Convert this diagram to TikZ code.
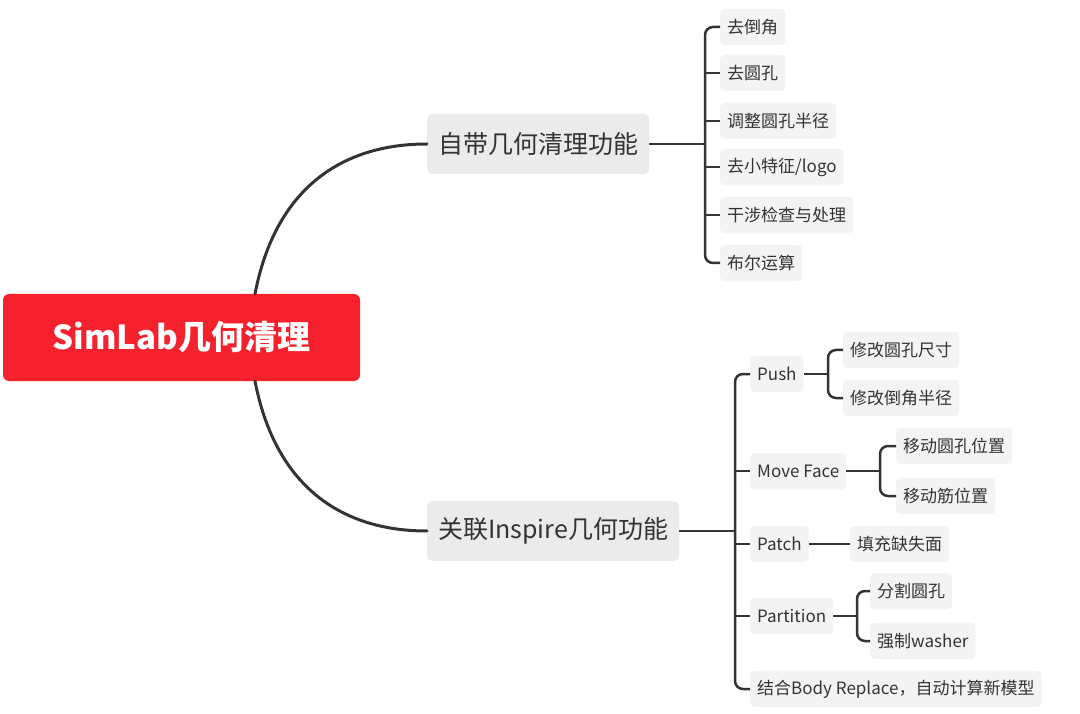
\documentclass[tikz,border=0pt]{standalone}
\usepackage{fontspec}
\setmainfont{Noto Sans CJK SC}
\definecolor{rootred}{HTML}{F5222D}
\definecolor{boxgray}{HTML}{EBEBEB}
\definecolor{leafgray}{HTML}{F3F3F3}
\definecolor{ln}{HTML}{333333}
\begin{document}
\begin{tikzpicture}[x=1pt,y=-1pt,
 leaf/.style={fill=leafgray,rounded corners=4pt,anchor=west,inner xsep=7pt,minimum height=36pt,font=\fontsize{17}{20}\selectfont,text=ln},
 mid/.style={fill=boxgray,rounded corners=5pt,anchor=west,inner xsep=11pt,minimum height=60pt,font=\fontsize{25}{28}\selectfont,text=ln},
 con/.style={draw=ln,line width=3pt,line cap=round},
 br/.style={draw=ln,line width=2.5pt,rounded corners=8pt}]
\useasboundingbox (0,0) rectangle (1080,714);
\node[fill=rootred,rounded corners=6pt,minimum width=357pt,minimum height=87pt,text=white,font=\fontsize{33}{36}\selectfont\bfseries] (root) at (181.5,337.5) {SimLab几何清理};
\node[mid] (b1) at (427,144) {自带几何清理功能};
\node[mid] (b2) at (427,531) {关联Inspire几何功能};
\draw[con] (255,294) .. controls (275,190) and (340,144) .. (b1.west);
\draw[con] (255,381) .. controls (275,485) and (340,531) .. (b2.west);
% branch 1 leaves
\node[leaf] (l1) at (720,27) {去倒角};
\node[leaf] (l2) at (720,73) {去圆孔};
\node[leaf] (l3) at (720,121) {调整圆孔半径};
\node[leaf] (l4) at (720,167) {去小特征/logo};
\node[leaf] (l5) at (720,215) {干涉检查与处理};
\node[leaf] (l6) at (720,263) {布尔运算};
\draw[br] (b1.east) -- (705,144);
\draw[br] (l1.west) -| (705,144) |- (l6.west);
\foreach \n in {l2,l3,l4,l5} \draw[br,rounded corners=0pt] (705,0|-\n.west) -- (\n.west);
% branch 2
\node[leaf] (p) at (750,374) {Push};
\node[leaf] (m) at (750,471) {Move Face};
\node[leaf] (pa) at (750,544) {Patch};
\node[leaf] (pt) at (750,616) {Partition};
\node[leaf] (bo) at (750,689) {结合Body Replace，自动计算新模型};
\draw[br] (b2.east) -- (735,531);
\draw[br] (p.west) -| (735,531) |- (bo.west);
\foreach \n in {m,pa,pt} \draw[br,rounded corners=0pt] (735,0|-\n.west) -- (\n.west);
% subs
\node[leaf] (p1) at (843,350) {修改圆孔尺寸};
\node[leaf] (p2) at (843,398) {修改倒角半径};
\draw[br] (p.east) -- (828,374);
\draw[br] (p1.west) -| (828,374) |- (p2.west);
\node[leaf] (m1) at (896,446) {移动圆孔位置};
\node[leaf] (m2) at (896,496) {移动筋位置};
\draw[br] (m.east) -- (880,471);
\draw[br] (m1.west) -| (880,471) |- (m2.west);
\node[leaf] (pa1) at (850,544) {填充缺失面};
\draw[br] (pa.east) -- (pa1.west);
\node[leaf] (pt1) at (870,591) {分割圆孔};
\node[leaf] (pt2) at (870,641) {强制washer};
\draw[br] (pt.east) -- (857,616);
\draw[br] (pt1.west) -| (857,616) |- (pt2.west);
\end{tikzpicture}
\end{document}
